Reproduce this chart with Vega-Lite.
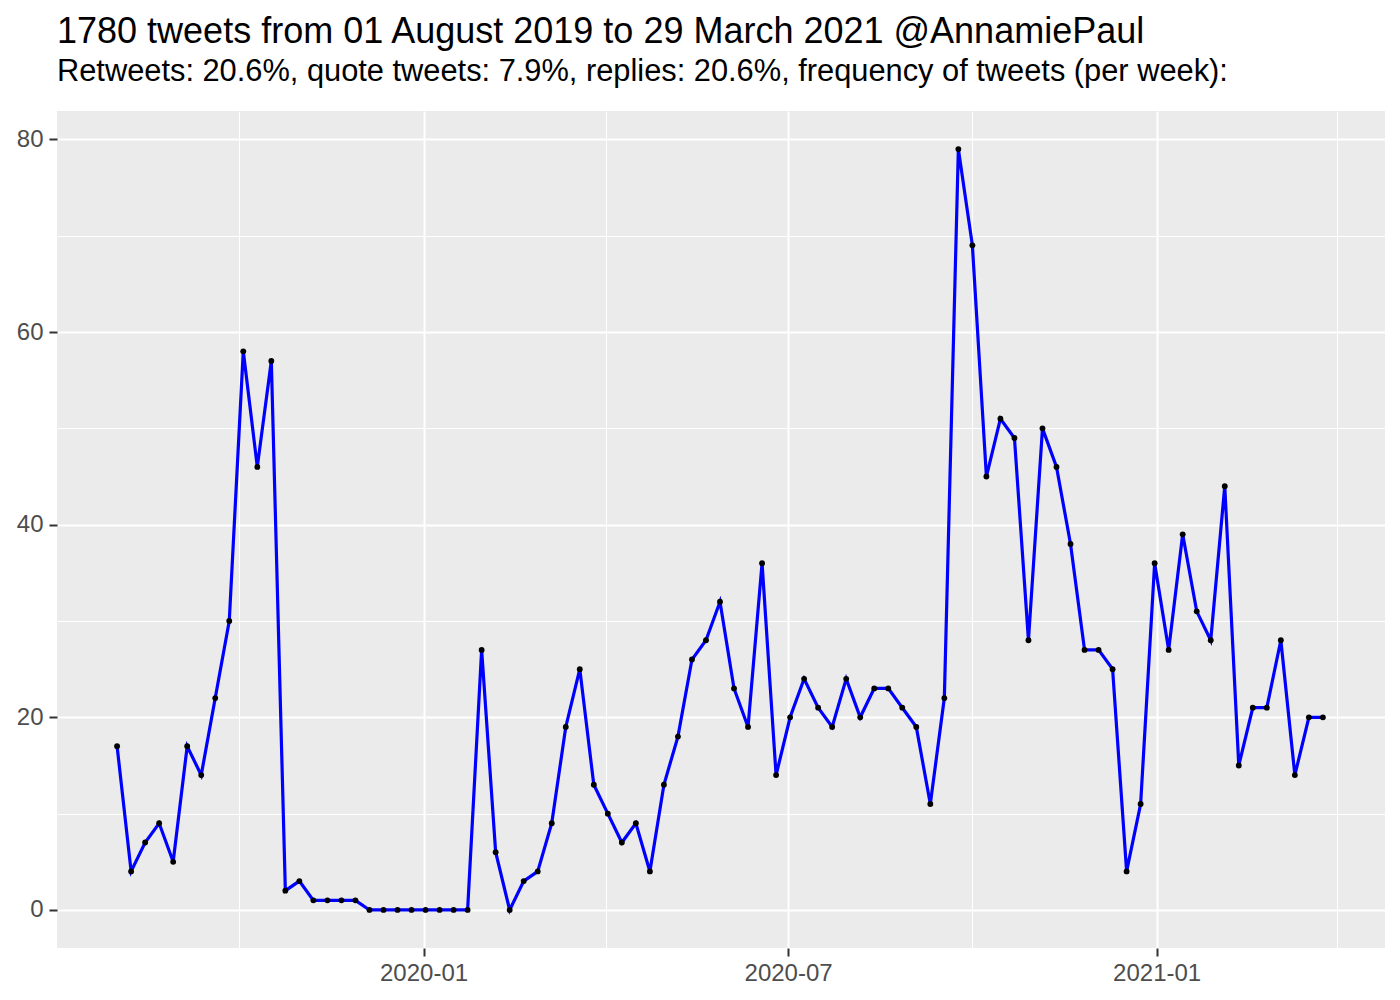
{
  "$schema": "https://vega.github.io/schema/vega-lite/v6.json",
  "width": 1328,
  "height": 837,
  "autosize": {"type": "none"},
  "padding": {"left": 57, "top": 111, "right": 15, "bottom": 52},
  "background": "white",
  "title": {
    "text": "1780 tweets from 01 August 2019 to 29 March 2021 @AnnamiePaul",
    "subtitle": "Retweets: 20.6%, quote tweets: 7.9%, replies: 20.6%, frequency of tweets (per week):",
    "anchor": "start",
    "frame": "group",
    "font": "Liberation Sans",
    "fontSize": 36,
    "fontWeight": "normal",
    "color": "#000000",
    "subtitleFont": "Liberation Sans",
    "subtitleFontSize": 30.8,
    "subtitleColor": "#000000",
    "subtitlePadding": 5.5,
    "offset": 23.7
  },
  "config": {
    "view": {"fill": "#EBEBEB", "stroke": null},
    "axis": {
      "domain": false,
      "labelFont": "Liberation Sans",
      "labelFontSize": 24,
      "labelColor": "#4D4D4D",
      "gridColor": "#FFFFFF",
      "gridOpacity": 1,
      "tickColor": "#333333",
      "tickWidth": 2,
      "tickSize": 8,
      "title": null
    }
  },
  "data": {
    "values": [
      {"week": "2019-08-01", "n": 17}, {"week": "2019-08-08", "n": 4}, {"week": "2019-08-15", "n": 7},
      {"week": "2019-08-22", "n": 9}, {"week": "2019-08-29", "n": 5}, {"week": "2019-09-05", "n": 17},
      {"week": "2019-09-12", "n": 14}, {"week": "2019-09-19", "n": 22}, {"week": "2019-09-26", "n": 30},
      {"week": "2019-10-03", "n": 58}, {"week": "2019-10-10", "n": 46}, {"week": "2019-10-17", "n": 57},
      {"week": "2019-10-24", "n": 2}, {"week": "2019-10-31", "n": 3}, {"week": "2019-11-07", "n": 1},
      {"week": "2019-11-14", "n": 1}, {"week": "2019-11-21", "n": 1}, {"week": "2019-11-28", "n": 1},
      {"week": "2019-12-05", "n": 0}, {"week": "2019-12-12", "n": 0}, {"week": "2019-12-19", "n": 0},
      {"week": "2019-12-26", "n": 0}, {"week": "2020-01-02", "n": 0}, {"week": "2020-01-09", "n": 0},
      {"week": "2020-01-16", "n": 0}, {"week": "2020-01-23", "n": 0}, {"week": "2020-01-30", "n": 27},
      {"week": "2020-02-06", "n": 6}, {"week": "2020-02-13", "n": 0}, {"week": "2020-02-20", "n": 3},
      {"week": "2020-02-27", "n": 4}, {"week": "2020-03-05", "n": 9}, {"week": "2020-03-12", "n": 19},
      {"week": "2020-03-19", "n": 25}, {"week": "2020-03-26", "n": 13}, {"week": "2020-04-02", "n": 10},
      {"week": "2020-04-09", "n": 7}, {"week": "2020-04-16", "n": 9}, {"week": "2020-04-23", "n": 4},
      {"week": "2020-04-30", "n": 13}, {"week": "2020-05-07", "n": 18}, {"week": "2020-05-14", "n": 26},
      {"week": "2020-05-21", "n": 28}, {"week": "2020-05-28", "n": 32}, {"week": "2020-06-04", "n": 23},
      {"week": "2020-06-11", "n": 19}, {"week": "2020-06-18", "n": 36}, {"week": "2020-06-25", "n": 14},
      {"week": "2020-07-02", "n": 20}, {"week": "2020-07-09", "n": 24}, {"week": "2020-07-16", "n": 21},
      {"week": "2020-07-23", "n": 19}, {"week": "2020-07-30", "n": 24}, {"week": "2020-08-06", "n": 20},
      {"week": "2020-08-13", "n": 23}, {"week": "2020-08-20", "n": 23}, {"week": "2020-08-27", "n": 21},
      {"week": "2020-09-03", "n": 19}, {"week": "2020-09-10", "n": 11}, {"week": "2020-09-17", "n": 22},
      {"week": "2020-09-24", "n": 79}, {"week": "2020-10-01", "n": 69}, {"week": "2020-10-08", "n": 45},
      {"week": "2020-10-15", "n": 51}, {"week": "2020-10-22", "n": 49}, {"week": "2020-10-29", "n": 28},
      {"week": "2020-11-05", "n": 50}, {"week": "2020-11-12", "n": 46}, {"week": "2020-11-19", "n": 38},
      {"week": "2020-11-26", "n": 27}, {"week": "2020-12-03", "n": 27}, {"week": "2020-12-10", "n": 25},
      {"week": "2020-12-17", "n": 4}, {"week": "2020-12-24", "n": 11}, {"week": "2020-12-31", "n": 36},
      {"week": "2021-01-07", "n": 27}, {"week": "2021-01-14", "n": 39}, {"week": "2021-01-21", "n": 31},
      {"week": "2021-01-28", "n": 28}, {"week": "2021-02-04", "n": 44}, {"week": "2021-02-11", "n": 15},
      {"week": "2021-02-18", "n": 21}, {"week": "2021-02-25", "n": 21}, {"week": "2021-03-04", "n": 28},
      {"week": "2021-03-11", "n": 14}, {"week": "2021-03-18", "n": 20}, {"week": "2021-03-25", "n": 20}
    ]
  },
  "encoding": {
    "x": {
      "field": "week",
      "type": "temporal",
      "scale": {
        "type": "utc",
        "domain": [
          {"year": 2019, "month": 7, "date": 2, "utc": true},
          {"year": 2021, "month": 4, "date": 25, "utc": true}
        ],
        "nice": false
      },
      "axis": {
        "values": [
          {"year": 2019, "month": 10, "date": 1, "utc": true},
          {"year": 2020, "month": 1, "date": 1, "utc": true},
          {"year": 2020, "month": 4, "date": 1, "utc": true},
          {"year": 2020, "month": 7, "date": 1, "utc": true},
          {"year": 2020, "month": 10, "date": 1, "utc": true},
          {"year": 2021, "month": 1, "date": 1, "utc": true},
          {"year": 2021, "month": 4, "date": 1, "utc": true}
        ],
        "labelExpr": "utcmonth(datum.value) % 6 == 0 ? utcFormat(datum.value, '%Y-%m') : ''",
        "gridWidth": {"condition": {"test": "utcmonth(datum.value) % 6 == 0", "value": 2}, "value": 1},
        "tickOpacity": {"condition": {"test": "utcmonth(datum.value) % 6 == 0", "value": 1}, "value": 0},
        "labelPadding": 5,
        "labelFlush": false,
        "labelOverlap": false
      }
    },
    "y": {
      "field": "n",
      "type": "quantitative",
      "scale": {"domain": [-3.95, 82.95], "nice": false, "zero": false},
      "axis": {
        "values": [0, 10, 20, 30, 40, 50, 60, 70, 80],
        "labelExpr": "datum.value % 20 == 0 ? datum.label : ''",
        "gridWidth": {"condition": {"test": "datum.value % 20 == 0", "value": 2}, "value": 1},
        "tickOpacity": {"condition": {"test": "datum.value % 20 == 0", "value": 1}, "value": 0},
        "labelPadding": 6,
        "labelOverlap": false
      }
    }
  },
  "layer": [
    {"mark": {"type": "line", "color": "#0000FF", "strokeWidth": 3.2}},
    {"mark": {"type": "point", "filled": true, "color": "#000000", "opacity": 1, "size": 34}}
  ]
}
